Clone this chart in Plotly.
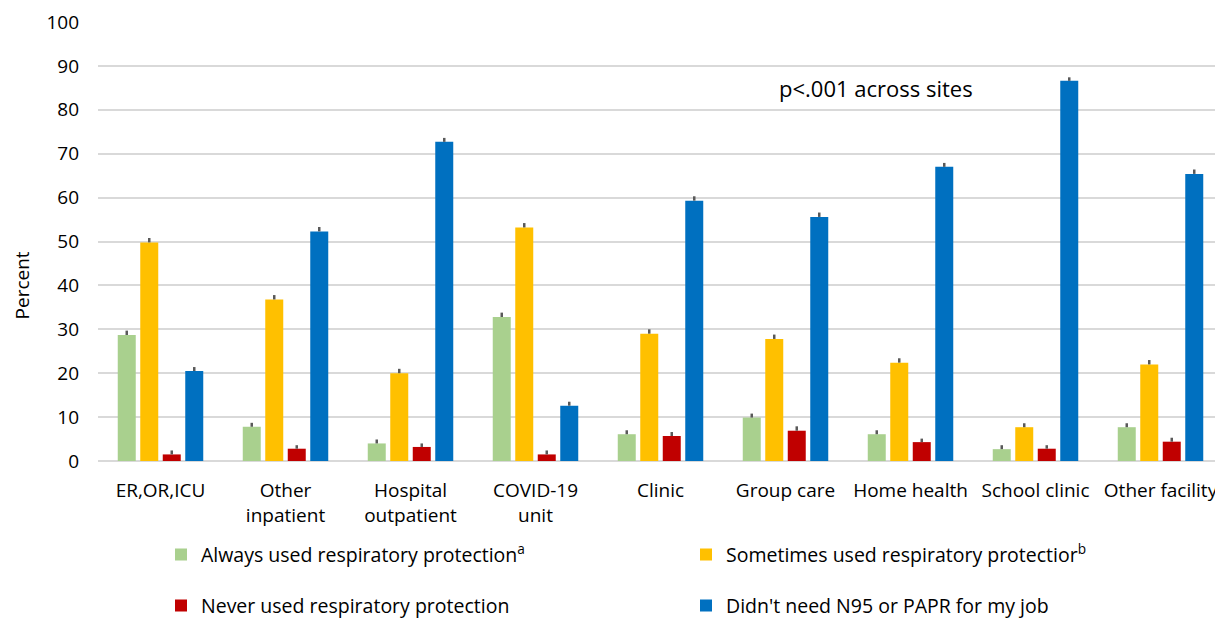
import plotly.graph_objects as go

# Settings, four response groups, error bars (upper half only)
sites = ["ER,OR,ICU", "Other<br>inpatient", "Hospital<br>outpatient", "COVID-19<br>unit",
         "Clinic", "Group care", "Home health", "School clinic", "Other facility"]

always_used = [28.7, 7.8, 4.0, 32.8, 6.1, 9.9, 6.1, 2.7, 7.7]
sometimes_used = [49.8, 36.8, 20.0, 53.2, 29.0, 27.8, 22.4, 7.7, 22.0]
never_used = [1.5, 2.8, 3.2, 1.5, 5.7, 6.9, 4.3, 2.8, 4.4]
didnt_need = [20.5, 52.3, 72.7, 12.6, 59.3, 55.6, 67.0, 86.6, 65.4]

always_err = [1.0, 0.9, 0.9, 1.0, 0.9, 0.9, 0.9, 0.9, 0.9]
sometimes_err = [1.0, 1.0, 1.0, 1.0, 1.0, 1.0, 1.0, 0.9, 1.0]
never_err = [0.9, 0.8, 0.8, 0.9, 0.9, 1.0, 0.8, 0.8, 0.9]
didnt_err = [0.9, 1.0, 0.9, 0.9, 1.0, 1.0, 0.9, 0.8, 1.0]

series = [
    ("Always used respiratory protection<sup>a</sup>", always_used, always_err, "#a9d08e", "legend"),
    ("Sometimes used respiratory protectior<sup>b</sup>", sometimes_used, sometimes_err, "#ffc000", "legend"),
    ("Never used respiratory protection", never_used, never_err, "#c00000", "legend2"),
    ("Didn't need N95 or PAPR for my job", didnt_need, didnt_err, "#0070c0", "legend2"),
]

FONT = "Open Sans, sans-serif"

fig = go.Figure()
for name, vals, err, color, leg in series:
    fig.add_trace(go.Bar(
        x=sites, y=vals, name=name, legend=leg,
        marker=dict(color=color, line=dict(width=0)),
        error_y=dict(type="data", symmetric=False, array=err, arrayminus=[0] * len(err),
                     color="#595959", thickness=2.5, width=0),
    ))

fig.add_annotation(text="p<.001 across sites", xref="paper", yref="y",
                   x=0.6916, y=85, xanchor="center", yanchor="middle", showarrow=False,
                   font=dict(family=FONT, size=22, color="#000"))

# y-axis title sits lower than the axis centre in the original
fig.add_annotation(text="Percent", textangle=-90, xref="paper", yref="paper",
                   x=-0.0675, y=0.40, xanchor="center", yanchor="middle", showarrow=False,
                   borderpad=0, font=dict(family=FONT, size=19, color="#000"))

leg_common = dict(orientation="h", entrywidth=480, entrywidthmode="pixels",
                  xanchor="left", yanchor="middle", x=0.056,
                  font=dict(family=FONT, size=19.5, color="#000"),
                  bgcolor="rgba(0,0,0,0)")

# page body adds an 8px margin, so the figure is 8px smaller than the window
fig.update_layout(
    width=1215, height=610,
    barmode="group", bargap=0.28, bargroupgap=0.2,
    paper_bgcolor="white", plot_bgcolor="white",
    margin=dict(l=90, r=0, t=14, b=157, autoexpand=False),
    font=dict(family=FONT, size=19, color="#000"),
    xaxis=dict(showgrid=False, showline=False, ticks="", ticklabelstandoff=16,
               tickfont=dict(family=FONT, size=19, color="#000")),
    yaxis=dict(range=[0, 100], dtick=10, showgrid=True, gridcolor="#d9d9d9", gridwidth=1.5,
               zeroline=True, zerolinecolor="#d9d9d9", zerolinewidth=1.5,
               showline=False, ticks="", ticklabelstandoff=18,
               tickfont=dict(family=FONT, size=19, color="#000")),
    legend=dict(y=-0.214, **leg_common),
    legend2=dict(y=-0.330, **leg_common),
)

fig.write_html("out.html")
